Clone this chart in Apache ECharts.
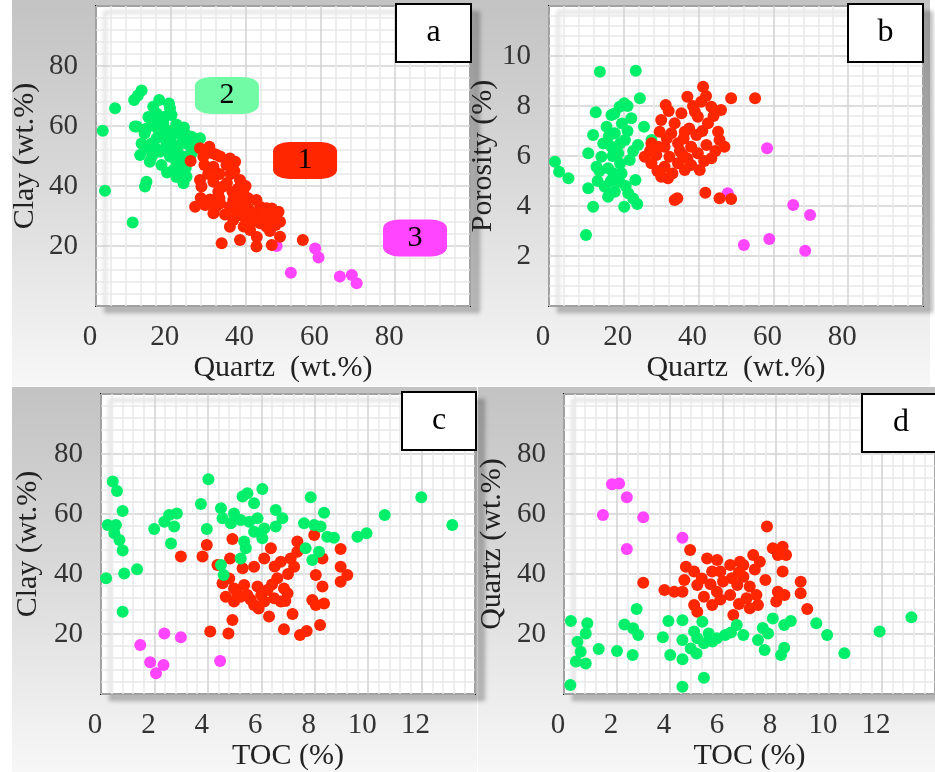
<!DOCTYPE html>
<html>
<head>
<meta charset="utf-8">
<script src="https://cdn.jsdelivr.net/npm/echarts@6/dist/echarts.min.js"></script>
<style>
  html, body { margin: 0; padding: 0; background: #fff; }
  #chart { width: 935px; height: 772px; }
</style>
</head>
<body>
<div id="chart"></div>
<script>
// Panel a: Quartz (wt.%) vs Clay (wt.%)
const aGroup1 = [[25.3,48.3],[27.8,52.6],[30.3,53.1],[28.7,49.8],[33.2,49.8],[35.8,49.2],[37.2,48.1],[31.4,46.4],[34.9,47.0],[27.8,42.0],[28.2,39.8],[31.4,41.4],[32.7,38.1],[34.0,39.8],[38.0,39.2],[39.4,37.6],[26.5,33.1],[29.2,33.7],[31.4,30.9],[33.2,34.2],[35.8,33.1],[36.7,35.3],[40.7,35.9],[42.9,35.3],[43.9,33.1],[45.6,32.6],[48.8,31.4],[49.2,28.1],[47.4,30.3],[42.1,30.9],[39.4,29.8],[36.7,28.7],[35.8,26.4],[41.2,25.3],[43.9,27.6],[45.6,26.4],[38.5,22.0],[33.6,20.9],[42.9,19.8],[47.0,20.3],[49.2,23.1],[55.3,22.0],[40.7,32.6],[38.5,34.2],[30.0,44.0],[36.0,44.0],[33.0,36.0],[44.0,30.0],[46.0,28.5],[37.5,31.5],[32.0,50.5],[29.0,47.0],[31.0,51.0],[33.0,44.0],[35.0,41.0],[37.0,45.0],[36.5,38.0],[38.0,36.5],[40.0,33.0],[41.5,28.0],[44.5,31.5],[47.0,32.5],[46.5,25.0],[48.0,27.0],[43.0,23.0],[39.5,26.5],[34.5,30.5],[30.5,35.5],[32.0,33.0],[28.0,36.0],[40.0,40.0],[38.5,42.0]];
const aGroup2 = [[1.8,58.4],[2.4,38.4],[5.1,65.9],[9.8,27.8],[12.2,71.8],[10.2,68.7],[11.2,70.2],[13.5,41.4],[13.1,39.8],[16.9,68.7],[19.8,65.9],[16.2,64.2],[18.4,63.1],[14.9,61.4],[10.9,59.8],[13.5,59.2],[17.1,58.1],[20.7,58.7],[22.0,57.6],[24.2,57.0],[25.6,56.4],[27.8,55.9],[12.2,54.2],[14.9,54.2],[18.9,54.2],[22.9,54.2],[11.8,50.3],[14.4,48.1],[17.1,51.4],[19.8,49.8],[21.6,47.6],[20.7,45.3],[22.9,45.9],[24.2,49.8],[23.4,40.9],[24.2,43.1],[16.2,55.9],[18.0,60.9],[20.2,63.7],[15.3,66.4],[26.9,53.1],[25.6,50.9],[19.5,67.5],[17.5,61.5],[21.5,60.5],[23.5,59.5],[19.0,56.5],[21.0,52.5],[16.0,52.5],[13.0,57.5],[25.0,53.5],[10.4,59.8],[14.0,63.0],[16.5,59.0],[19.0,58.5],[18.0,52.0],[20.0,55.0],[22.0,51.0],[23.0,48.0],[24.0,46.0],[13.0,52.5],[15.0,50.0],[17.5,47.0],[19.0,44.5],[21.5,43.0]];
const aGroup3 = [[48.3,20.0],[58.6,19.2],[59.5,16.2],[52.1,11.1],[65.2,9.8],[68.4,10.3],[69.7,7.6]];

// Panel b: Quartz (wt.%) vs Porosity (%)
const bGroup1 = [[41.2,8.77],[37.0,8.37],[48.7,8.31],[55.1,8.31],[31.2,8.04],[40.7,8.17],[43.4,7.97],[46.0,7.84],[35.4,7.71],[39.0,7.77],[30.0,7.44],[33.6,7.31],[42.5,7.31],[45.2,6.97],[29.6,6.97],[32.7,6.91],[36.3,6.97],[39.4,6.84],[27.4,6.51],[30.9,6.37],[34.5,6.51],[38.0,6.37],[42.1,6.44],[46.9,6.37],[45.6,6.64],[25.6,5.97],[28.7,6.04],[32.2,5.97],[35.8,6.04],[39.8,6.11],[43.4,5.91],[27.4,5.71],[30.9,5.57],[34.5,5.71],[38.0,5.64],[40.3,5.44],[30.0,5.17],[31.8,5.11],[36.3,5.44],[33.6,4.24],[34.3,4.31],[41.8,4.53],[45.6,4.31],[48.7,4.28],[39.8,7.57],[29.2,6.37],[32.0,7.8],[37.5,7.1],[41.0,7.0],[44.0,7.6],[35.0,6.2],[37.0,5.9],[41.5,5.8],[44.5,6.2],[29.0,5.4],[33.0,5.3],[36.0,6.7],[31.5,6.7],[38.5,8.0],[42.0,8.4],[27.0,6.2]];
const bGroup2 = [[1.6,5.77],[2.7,5.37],[5.2,5.11],[13.6,9.37],[23.2,9.41],[24.3,8.31],[20.1,8.11],[18.9,7.97],[12.5,7.75],[16.7,7.64],[22.0,7.51],[25.4,7.17],[15.4,7.17],[11.8,6.84],[17.6,6.91],[20.3,6.64],[23.8,6.44],[16.7,6.37],[10.5,6.11],[14.0,5.97],[18.5,6.11],[21.6,5.84],[27.4,6.64],[12.7,5.57],[15.8,5.51],[19.4,5.31],[23.1,5.04],[10.5,4.71],[14.9,4.77],[17.6,4.57],[21.2,4.51],[15.8,4.37],[11.8,3.97],[20.1,3.97],[23.6,4.08],[9.9,2.84],[18.9,4.97],[17.2,5.31],[19.5,7.3],[21.0,7.0],[13.0,5.0],[19.0,5.7],[22.5,6.2],[16.0,6.8],[14.5,6.5],[17.0,6.0],[19.0,6.5],[13.5,5.4],[16.5,5.0],[20.5,4.8],[17.5,7.7],[21.0,8.0],[22.5,4.3]];
const bGroup3 = [[58.3,6.31],[47.8,4.51],[65.3,4.04],[69.8,3.64],[58.9,2.68],[52.1,2.44],[68.5,2.21]];

// Panel c: TOC (%) vs Clay (wt.%)
const cGroup1 = [[2.99,45.8],[3.8,45.8],[3.96,49.7],[4.92,51.7],[4.83,45.2],[4.36,43.0],[4.55,36.9],[4.67,32.4],[4.98,35.2],[5.36,36.3],[5.48,33.0],[5.73,29.7],[5.86,35.8],[6.23,34.7],[5.3,41.9],[5.73,42.4],[6.11,45.2],[6.36,48.6],[6.73,44.1],[7.1,45.2],[7.23,42.4],[7.35,50.8],[7.35,47.4],[7.98,53.0],[8.29,45.2],[6.6,38.6],[6.98,33.6],[6.73,30.8],[6.48,31.9],[6.11,30.8],[6.29,25.8],[7.17,26.7],[6.85,21.6],[7.45,19.7],[7.7,21.0],[8.2,23.0],[8.04,39.7],[8.29,35.8],[7.91,31.3],[8.35,30.2],[8.04,29.7],[8.97,48.3],[8.97,42.4],[9.22,39.7],[8.97,37.4],[4.09,20.8],[4.77,20.2],[4.92,24.7],[4.98,30.8],[5.23,32.4],[6.85,35.2],[5.1,33.5],[5.6,31.5],[6.0,33.0],[6.4,36.5],[7.0,40.0],[6.5,42.5],[5.9,28.5],[4.8,38.5],[6.9,31.0]];
const cGroup2 = [[0.44,70.8],[0.6,67.7],[0.81,61.0],[0.25,56.3],[0.56,56.3],[0.5,53.6],[0.69,51.3],[0.81,47.8],[0.19,38.6],[0.87,40.2],[1.35,41.6],[0.81,27.4],[1.99,55.0],[2.37,57.4],[2.55,59.7],[2.84,60.2],[2.74,55.8],[2.62,50.2],[3.74,63.3],[4.02,71.6],[3.96,55.0],[4.49,61.9],[4.55,58.6],[4.98,60.2],[5.3,65.8],[5.48,66.9],[5.73,63.6],[6.04,68.3],[4.86,56.9],[5.23,58.0],[5.55,57.4],[5.86,58.6],[6.11,55.2],[5.73,54.1],[5.36,50.8],[5.42,48.6],[6.04,51.9],[6.54,61.3],[6.79,58.6],[6.54,55.8],[5.23,45.2],[4.49,43.0],[4.59,39.7],[7.85,65.6],[8.35,60.4],[7.6,56.9],[7.98,56.3],[8.22,55.8],[8.47,52.4],[8.72,52.1],[8.16,47.4],[7.91,44.7],[7.66,48.6],[9.6,52.4],[9.94,53.6],[10.62,59.7],[11.99,65.6],[13.15,56.3]];
const cGroup3 = [[1.47,16.3],[2.37,20.2],[2.99,18.9],[1.84,10.6],[2.34,9.7],[2.06,6.9],[4.46,11.0]];

// Panel d: TOC (%) vs Quartz (wt.%)
const dGroup1 = [[7.66,55.8],[4.76,48.0],[2.99,37.1],[3.79,34.7],[4.16,34.1],[4.6,42.4],[4.54,38.0],[4.91,40.8],[5.03,36.3],[5.28,32.4],[4.91,29.7],[5.03,27.4],[5.59,29.7],[5.4,45.2],[5.78,44.7],[5.59,40.8],[5.9,40.8],[6.27,43.0],[6.64,44.1],[7.14,46.3],[7.39,44.1],[6.33,38.6],[6.54,36.3],[6.27,33.0],[6.77,39.1],[7.01,35.8],[6.89,31.9],[7.26,33.0],[7.01,28.6],[7.32,29.7],[6.39,26.3],[7.88,48.6],[8.25,49.1],[8.07,46.3],[8.38,46.3],[8.25,40.8],[8.07,34.1],[8.32,33.0],[8.01,30.8],[8.93,37.4],[8.93,33.6],[9.18,28.3],[6.77,43.0],[5.53,36.6],[5.77,34.1],[4.47,34.1],[5.2,38.5],[6.0,37.5],[6.6,40.5],[7.2,41.5],[7.6,38.0],[5.9,31.5],[6.6,30.0]];
const dGroup2 = [[0.26,24.3],[0.24,3.0],[0.88,23.6],[0.82,20.2],[0.51,17.4],[0.63,14.1],[0.45,10.8],[0.82,10.2],[1.31,15.0],[2.0,14.3],[2.28,23.2],[2.61,21.9],[2.8,19.7],[2.59,13.0],[2.74,28.3],[3.73,18.9],[3.94,24.3],[4.01,13.0],[4.47,24.6],[4.47,18.0],[4.47,11.6],[4.47,2.4],[4.78,15.2],[5.03,18.6],[5.22,24.1],[5.28,16.9],[5.28,5.4],[5.46,20.2],[5.77,18.6],[6.08,19.7],[6.52,23.0],[6.77,19.7],[4.91,20.8],[7.32,18.0],[7.57,14.7],[7.7,20.2],[7.88,25.2],[8.31,23.0],[8.56,24.3],[8.19,13.0],[8.31,15.4],[9.52,23.6],[9.93,19.7],[10.58,13.6],[11.91,20.8],[13.11,25.6],[5.6,17.5],[5.0,13.5],[6.3,20.5],[7.5,22.0]];
const dGroup3 = [[1.81,69.9],[2.08,70.2],[2.37,65.6],[1.47,59.7],[2.99,58.9],[2.37,48.3],[4.47,52.1]];

const panelLetters = ['a', 'b', 'c', 'd'];
const xNames = ['Quartz  (wt.%)', 'Quartz  (wt.%)', 'TOC (%)', 'TOC (%)'];
const yNames = ['Clay (wt.%)', 'Porosity (%)', 'Clay (wt.%)', 'Quartz (wt.%)'];
const groupNames = ['1', '2', '3'];

const COLORS = { g1: '#ff2600', g2: '#00ef6b', g3: '#ff45ff' };
const SERIF = 'Liberation Serif';

const gridBoxes = [
  { left: 96,  top: 6,   width: 374, height: 300 },
  { left: 549, top: 6,   width: 374, height: 300 },
  { left: 101, top: 394, width: 374, height: 300 },
  { left: 564, top: 394, width: 375, height: 300 }
];

const grids = gridBoxes.map(b => Object.assign({
  show: true, backgroundColor: '#ffffff', borderColor: '#111', borderWidth: 2,
  shadowColor: 'rgba(0,0,0,0.22)', shadowBlur: 4, shadowOffsetX: 9, shadowOffsetY: 6
}, b));

function gridLines() {
  return {
    splitLine: { show: true, lineStyle: { color: '#d2d2d2', width: 1.5 } },
    minorTick: { show: false, splitNumber: 5 },
    minorSplitLine: { show: true, lineStyle: { color: '#e9e9e9', width: 1.5 } }
  };
}

function xAxis(gi, max, interval) {
  return Object.assign({
    gridIndex: gi, type: 'value', min: 0, max: max, interval: interval,
    name: xNames[gi], nameLocation: 'middle', nameGap: 44,
    nameTextStyle: { fontFamily: SERIF, fontSize: 30, color: '#222' },
    axisLine: { show: false }, axisTick: { show: false },
    axisLabel: { fontFamily: SERIF, fontSize: 29, color: '#333', margin: 17,
      showMaxLabel: false, padding: [0, 12, 0, 0] }
  }, gridLines());
}

function yAxis(gi, max, interval, gap) {
  return Object.assign({
    gridIndex: gi, type: 'value', min: 0, max: max, interval: interval,
    name: yNames[gi], nameLocation: 'middle', nameGap: gap,
    nameTextStyle: { fontFamily: SERIF, fontSize: 30, color: '#222' },
    axisLine: { show: false }, axisTick: { show: false },
    axisLabel: { fontFamily: SERIF, fontSize: 29, color: '#333', margin: 18,
      showMinLabel: false, showMaxLabel: false }
  }, gridLines());
}

function scatter(gi, data, color) {
  return {
    type: 'scatter', xAxisIndex: gi, yAxisIndex: gi, data: data,
    symbol: 'circle', symbolSize: 12, itemStyle: { color: color, opacity: 1 },
    emphasis: { disabled: true }, animation: false
  };
}

function tag(text, fill, coord) {
  return {
    coord: coord, value: text, symbol: 'roundRect', symbolSize: [64, 37],
    itemStyle: { color: fill },
    label: { show: true, formatter: text, fontFamily: SERIF, fontSize: 30, color: '#000' }
  };
}

// Group tags drawn on panel a
const groupTags = {
  type: 'scatter', xAxisIndex: 0, yAxisIndex: 0, data: [], silent: true,
  markPoint: { animation: false, silent: true, data: [
    tag(groupNames[0], '#ff2600', [55.9, 48.5]),
    tag(groupNames[1], '#70fba4', [35.0, 70.2]),
    tag(groupNames[2], '#ff45ff', [85.3, 22.7])
  ] }
};

// Panel backgrounds (vertical grey fade) and letter boxes
const fade = {
  type: 'linear', x: 0, y: 0, x2: 0, y2: 1,
  colorStops: [
    { offset: 0, color: '#c3c3c3' }, { offset: 0.45, color: '#d8d8d8' },
    { offset: 0.8, color: '#ececec' }, { offset: 1, color: '#f7f7f7' }
  ]
};
const panelBg = [
  { x: 12, y: 0, w: 460, h: 386 },
  { x: 472, y: 0, w: 458, h: 386 },
  { x: 12, y: 387, w: 465, h: 385 },
  { x: 478, y: 387, w: 457, h: 385 }
];
const letterBoxes = [
  { x: 396, y: 4, w: 75, h: 58 },
  { x: 848, y: 4, w: 75, h: 58 },
  { x: 402, y: 392, w: 74, h: 58 },
  { x: 862, y: 394, w: 78, h: 58 }
];

const graphics = [];
panelBg.forEach(p => graphics.push({
  type: 'rect', z: -10, silent: true,
  shape: { x: p.x, y: p.y, width: p.w, height: p.h },
  style: { fill: fade }
}));
letterBoxes.forEach((b, i) => graphics.push({
  type: 'group', z: 100, children: [
    { type: 'rect', z: 100, shape: { x: b.x, y: b.y, width: b.w, height: b.h },
      style: { fill: '#fff', stroke: '#000', lineWidth: 2 } },
    { type: 'text', z: 101, x: b.x + b.w / 2, y: b.y + b.h / 2,
      style: { text: panelLetters[i], font: '32px "' + SERIF + '"', fill: '#000',
        textAlign: 'center', textVerticalAlign: 'middle' } }
  ]
}));

const option = {
  backgroundColor: '#ffffff',
  animation: false,
  grid: grids,
  xAxis: [xAxis(0, 100, 20), xAxis(1, 100, 20), xAxis(2, 14, 2), xAxis(3, 14, 2)],
  yAxis: [yAxis(0, 100, 20, 56), yAxis(1, 12, 2, 44), yAxis(2, 100, 20, 58), yAxis(3, 100, 20, 57)],
  series: [
    scatter(0, aGroup2, COLORS.g2), scatter(0, aGroup3, COLORS.g3), scatter(0, aGroup1, COLORS.g1),
    scatter(1, bGroup2, COLORS.g2), scatter(1, bGroup3, COLORS.g3), scatter(1, bGroup1, COLORS.g1),
    scatter(2, cGroup1, COLORS.g1), scatter(2, cGroup3, COLORS.g3), scatter(2, cGroup2, COLORS.g2),
    scatter(3, dGroup1, COLORS.g1), scatter(3, dGroup3, COLORS.g3), scatter(3, dGroup2, COLORS.g2),
    groupTags
  ],
  graphic: { elements: graphics }
};

const chart = echarts.init(document.getElementById('chart'), null, { renderer: 'canvas' });
chart.setOption(option);
</script>
</body>
</html>
